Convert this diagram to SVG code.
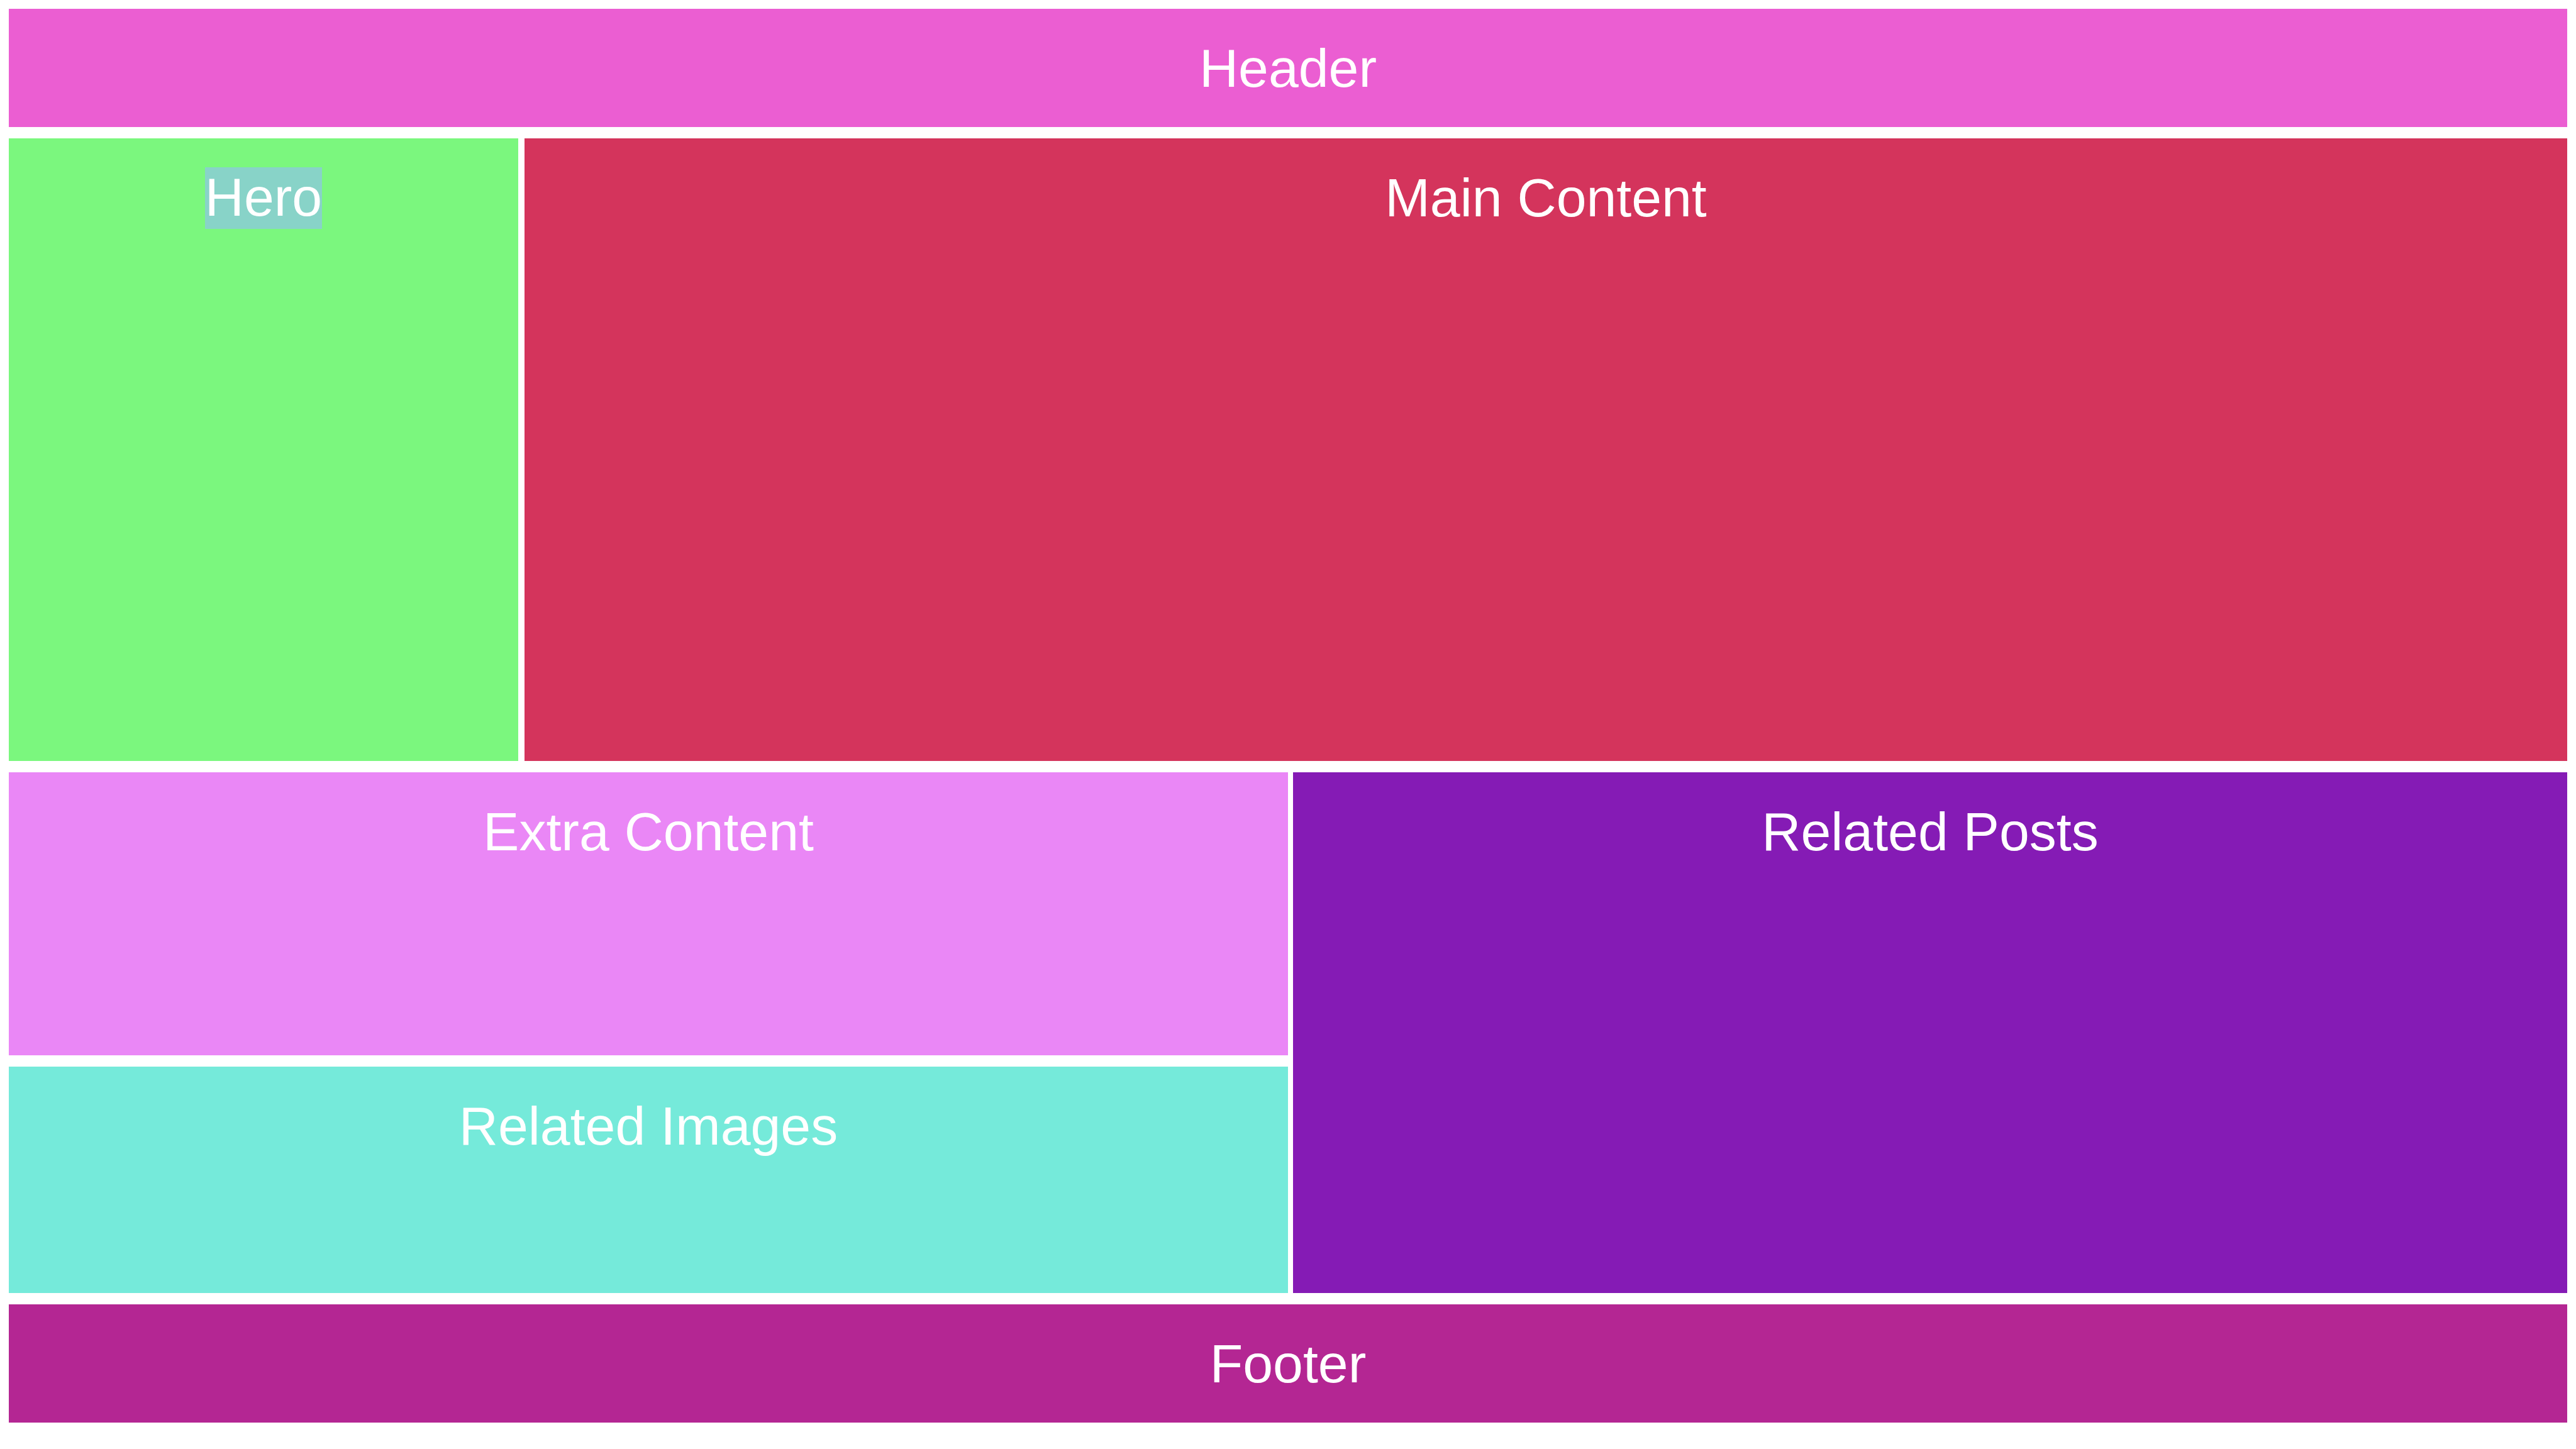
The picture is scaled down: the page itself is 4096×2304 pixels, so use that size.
<svg xmlns="http://www.w3.org/2000/svg" width="4096" height="2304" viewBox="0 0 4096 2304">
<style>
text{font-family:"Liberation Sans",Arial,sans-serif;font-size:86px;fill:#ffffff;text-anchor:middle}
</style>
<rect width="4096" height="2304" fill="#ffffff"/>
<g id="header"><rect x="14" y="14" width="4068" height="188" fill="#EB5ED2"/><text x="2048" y="138">Header</text></g>
<g id="hero"><rect x="14" y="220" width="810" height="990" fill="#7BF77E"/><rect x="326" y="266" width="186" height="98" fill="#88D3C8"/><text x="419" y="343">Hero</text></g>
<g id="main-content"><rect x="834" y="220" width="3248" height="990" fill="#D4345C"/><text x="2458" y="344">Main Content</text></g>
<g id="extra-content"><rect x="14" y="1228" width="2034" height="450" fill="#EA87F6"/><text x="1031" y="1352">Extra Content</text></g>
<g id="related-images"><rect x="14" y="1696" width="2034" height="360" fill="#75EADA"/><text x="1031" y="1820">Related Images</text></g>
<g id="related-posts"><rect x="2056" y="1228" width="2026" height="828" fill="#851BB5"/><text x="3069" y="1352">Related Posts</text></g>
<g id="footer"><rect x="14" y="2074" width="4068" height="188" fill="#B42693"/><text x="2048" y="2198">Footer</text></g>
<g id="connectors"/>
</svg>
